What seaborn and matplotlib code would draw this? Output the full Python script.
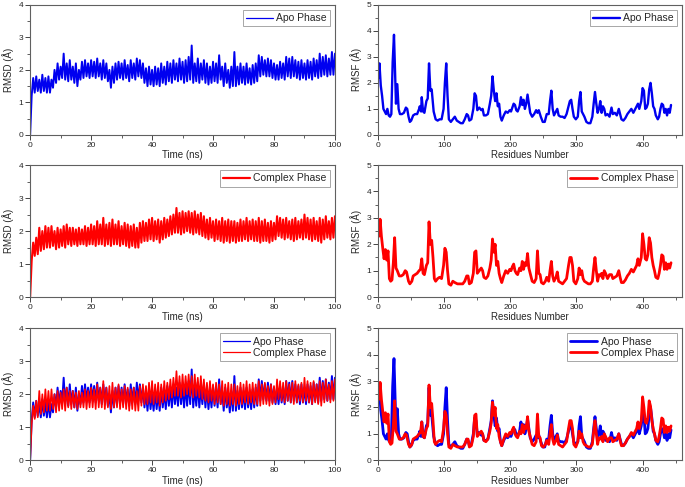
import numpy as np
import matplotlib.pyplot as plt
import seaborn as sns
from matplotlib.ticker import MultipleLocator

# ---------------------------------------------------------
# Data
# ---------------------------------------------------------

# RMSD noise envelopes: upper values at t = 0, 1, ..., 100 ns,
# lower values at t = 0.5, 1.5, ..., 99.5 ns
rmsd_apo_hi = [
    0.0, 1.75, 1.8, 1.7, 1.85, 1.75, 1.8, 1.7, 2.0, 2.2,
    2.1, 2.5, 2.2, 2.3, 2.1, 2.2, 2.0, 2.25, 2.3, 2.2,
    2.3, 2.25, 2.35, 2.2, 2.3, 2.2, 2.0, 2.1, 2.2, 2.25,
    2.2, 2.3, 2.15, 2.3, 2.2, 2.35, 2.3, 2.2, 2.05, 2.1,
    2.0, 2.1, 2.05, 2.2, 2.1, 2.25, 2.2, 2.3, 2.2, 2.35,
    2.25, 2.3, 2.4, 2.75, 2.2, 2.35, 2.2, 2.3, 2.2, 2.1,
    2.25, 2.2, 2.45, 2.1, 2.2, 2.0, 2.1, 2.55, 2.1, 2.2,
    2.1, 2.2, 2.05, 2.15, 2.2, 2.45, 2.4, 2.3, 2.35, 2.3,
    2.2, 2.15, 2.25, 2.2, 2.4, 2.35, 2.4, 2.3, 2.25, 2.3,
    2.2, 2.3, 2.25, 2.35, 2.3, 2.5, 2.4, 2.45, 2.35, 2.55,
    2.5,
]
rmsd_apo_lo = [
    1.2, 1.3, 1.35, 1.3, 1.35, 1.3, 1.3, 1.45, 1.6, 1.7,
    1.75, 1.7, 1.65, 1.7, 1.6, 1.5, 1.7, 1.75, 1.8, 1.75,
    1.8, 1.75, 1.8, 1.7, 1.75, 1.65, 1.45, 1.6, 1.7, 1.75,
    1.7, 1.75, 1.65, 1.75, 1.7, 1.8, 1.75, 1.6, 1.5, 1.55,
    1.5, 1.55, 1.5, 1.6, 1.55, 1.65, 1.6, 1.7, 1.65, 1.7,
    1.6, 1.65, 1.7, 1.6, 1.65, 1.6, 1.7, 1.6, 1.55, 1.6,
    1.65, 1.6, 1.7, 1.5, 1.6, 1.45, 1.5, 1.5, 1.55, 1.6,
    1.55, 1.6, 1.55, 1.6, 1.65, 1.8, 1.85, 1.8, 1.8, 1.75,
    1.7, 1.7, 1.75, 1.7, 1.8, 1.75, 1.8, 1.75, 1.7, 1.75,
    1.7, 1.75, 1.7, 1.8, 1.75, 1.8, 1.85, 1.8, 1.85, 1.85,
]
rmsd_cpx_hi = [
    0.0, 1.65, 1.8, 2.1, 2.0, 2.15, 2.1, 2.15, 2.0, 2.1,
    2.05, 2.15, 2.2, 2.1, 2.1, 2.05, 2.1, 2.05, 2.15, 2.1,
    2.2, 2.15, 2.3, 2.2, 2.4, 2.2, 2.25, 2.35, 2.2, 2.3,
    2.15, 2.25, 2.2, 2.15, 2.2, 2.1, 2.25, 2.3, 2.25, 2.35,
    2.4, 2.3, 2.35, 2.3, 2.4, 2.35, 2.45, 2.5, 2.7, 2.55,
    2.6, 2.55, 2.6, 2.55, 2.6, 2.5, 2.55, 2.45, 2.35, 2.4,
    2.3, 2.35, 2.3, 2.4, 2.3, 2.35, 2.3, 2.3, 2.25, 2.35,
    2.3, 2.4, 2.3, 2.35, 2.3, 2.4, 2.3, 2.35, 2.25, 2.3,
    2.25, 2.45, 2.4, 2.35, 2.4, 2.3, 2.35, 2.4, 2.3, 2.35,
    2.5, 2.4, 2.35, 2.4, 2.3, 2.4, 2.35, 2.45, 2.3, 2.4,
    2.45,
]
rmsd_cpx_lo = [
    1.1, 1.25, 1.3, 1.4, 1.45, 1.5, 1.5, 1.55, 1.45, 1.5,
    1.55, 1.5, 1.6, 1.55, 1.6, 1.55, 1.6, 1.6, 1.55, 1.6,
    1.6, 1.55, 1.6, 1.6, 1.55, 1.6, 1.55, 1.6, 1.6, 1.55,
    1.6, 1.55, 1.5, 1.55, 1.5, 1.5, 1.65, 1.7, 1.7, 1.75,
    1.7, 1.75, 1.65, 1.75, 1.8, 1.85, 1.9, 1.95, 1.95, 1.9,
    1.95, 2.0, 1.95, 1.9, 1.95, 1.9, 1.85, 1.8, 1.75, 1.8,
    1.7, 1.75, 1.7, 1.65, 1.7, 1.65, 1.7, 1.65, 1.7, 1.7,
    1.75, 1.7, 1.75, 1.7, 1.7, 1.65, 1.7, 1.7, 1.65, 1.7,
    1.75, 1.85, 1.8, 1.75, 1.8, 1.75, 1.7, 1.75, 1.8, 1.75,
    1.8, 1.75, 1.7, 1.75, 1.7, 1.65, 1.75, 1.8, 1.75, 1.8,
]

rmsf_apo_res = [
    1, 2, 4, 6, 8, 10, 12, 14, 16, 18, 20, 22, 24, 26, 27, 29, 31, 33,
    36, 39, 42, 44, 46, 48, 50, 53, 56, 59, 62, 63, 65, 66, 68, 70, 73,
    75, 77, 79, 81, 84, 87, 90, 93, 96, 99, 101, 103, 105, 107, 110,
    113, 116, 119, 122, 125, 128, 131, 134, 136, 138, 141, 144, 146,
    148, 150, 153, 156, 158, 160, 163, 166, 169, 171, 173, 175, 177,
    179, 181, 183, 185, 187, 190, 193, 196, 199, 201, 203, 205, 207,
    209, 211, 214, 216, 218, 220, 222, 224, 226, 228, 230, 233, 236,
    239, 241, 243, 246, 249, 252, 255, 258, 260, 262, 264, 266, 269,
    271, 273, 276, 279, 282, 285, 287, 290, 292, 294, 296, 299, 302,
    304, 306, 308, 310, 312, 315, 318, 321, 324, 326, 328, 330, 332,
    334, 336, 338, 340, 342, 344, 347, 350, 353, 355, 358, 361, 364,
    366, 368, 371, 374, 377, 380, 383, 386, 389, 391, 393, 395, 398,
    400, 402, 404, 406, 408, 410, 412, 414, 416, 418, 420, 423, 425,
    427, 429, 431, 433, 435, 437, 439, 441, 443,
]
rmsf_apo = [
    2.2, 2.75, 1.9, 1.5, 1.0, 0.9, 0.8, 1.0, 0.75, 0.7, 0.8, 2.8, 3.85,
    2.0, 1.2, 1.95, 1.0, 0.8, 0.8, 0.85, 1.05, 1.0, 0.7, 0.5, 0.55,
    0.75, 0.8, 0.8, 1.0, 1.1, 0.9, 1.45, 0.9, 0.85, 1.3, 1.4, 2.75,
    1.7, 1.75, 0.9, 0.6, 0.55, 0.6, 0.6, 1.0, 2.0, 2.75, 1.5, 0.6, 0.5,
    0.6, 0.7, 0.55, 0.5, 0.45, 0.45, 0.6, 0.8, 0.75, 0.55, 0.6, 1.0,
    1.6, 1.5, 0.95, 1.05, 0.95, 1.0, 0.75, 0.75, 0.8, 1.2, 1.5, 2.25,
    1.7, 1.3, 1.6, 1.1, 1.2, 0.7, 0.55, 0.75, 0.9, 0.85, 0.95, 0.9,
    1.05, 1.2, 1.15, 0.95, 0.9, 1.1, 1.45, 1.15, 1.35, 1.0, 1.2, 1.55,
    1.2, 0.85, 0.7, 0.8, 0.95, 0.85, 0.95, 0.7, 0.5, 0.5, 0.8, 0.8,
    1.3, 1.7, 1.0, 0.75, 0.9, 1.0, 0.75, 0.7, 0.7, 0.65, 0.8, 1.0,
    1.3, 1.35, 1.0, 0.7, 0.6, 0.7, 1.3, 1.65, 0.9, 0.8, 0.7, 0.5,
    0.45, 0.45, 0.7, 1.2, 1.65, 1.2, 0.85, 1.0, 1.3, 0.85, 1.1, 1.0,
    0.75, 0.8, 0.7, 1.05, 0.8, 0.85, 0.75, 1.0, 0.8, 0.6, 0.55, 0.65,
    0.8, 0.9, 1.0, 0.85, 1.0, 1.1, 1.2, 1.0, 1.3, 1.8, 1.7, 1.0, 1.05,
    1.2, 1.75, 2.0, 1.6, 1.1, 1.0, 0.75, 0.6, 0.7, 1.0, 1.2, 1.15,
    0.85, 1.0, 0.75, 1.0, 0.85, 1.15,
]

rmsf_cpx_res = [
    1, 3, 5, 7, 9, 11, 13, 15, 17, 19, 21, 23, 25, 27, 29, 32, 35, 38,
    41, 43, 46, 48, 51, 53, 56, 59, 62, 64, 66, 68, 70, 73, 75, 77, 79,
    81, 83, 85, 87, 90, 93, 96, 99, 101, 103, 105, 107, 110, 113, 116,
    120, 124, 128, 131, 134, 136, 138, 141, 144, 146, 148, 150, 153,
    156, 158, 160, 163, 166, 169, 171, 173, 175, 177, 179, 181, 183,
    185, 187, 190, 193, 196, 199, 201, 203, 205, 207, 209, 211, 214,
    216, 218, 220, 222, 224, 226, 228, 230, 233, 236, 239, 241, 243,
    245, 247, 250, 253, 255, 258, 260, 262, 264, 266, 269, 271, 273,
    276, 279, 282, 285, 288, 290, 292, 294, 296, 299, 302, 304, 306,
    308, 310, 312, 315, 318, 321, 324, 326, 328, 330, 332, 334, 336,
    338, 340, 342, 344, 347, 350, 353, 355, 358, 361, 364, 366, 368,
    371, 374, 377, 380, 383, 386, 389, 391, 393, 395, 398, 400, 402,
    404, 406, 408, 410, 412, 414, 416, 418, 420, 423, 425, 427, 429,
    431, 433, 435, 437, 439, 441, 443,
]
rmsf_cpx = [
    2.3, 2.95, 2.3, 1.85, 1.45, 1.8, 1.4, 1.75, 0.7, 0.6, 0.65, 1.3,
    2.25, 1.1, 1.0, 0.8, 0.8, 0.85, 1.0, 0.95, 0.6, 0.5, 0.6, 0.8, 0.85,
    0.9, 1.0, 1.05, 1.45, 0.9, 0.85, 1.2, 1.3, 2.85, 2.0, 2.15, 1.5,
    0.7, 0.6, 0.7, 0.75, 0.7, 1.2, 1.85, 1.7, 1.0, 0.5, 0.45, 0.6, 0.55,
    0.5, 0.5, 0.5, 0.6, 0.8, 0.8, 0.5, 0.55, 0.9, 1.7, 1.75, 0.9, 1.0,
    1.1, 1.0, 0.75, 0.7, 0.8, 1.1, 1.4, 2.2, 1.7, 2.0, 1.2, 1.35, 0.9,
    0.7, 0.55, 0.8, 1.0, 0.9, 1.05, 1.0, 1.15, 1.25, 1.0, 0.9, 0.85,
    1.1, 1.0, 1.35, 1.05, 1.3, 1.2, 1.65, 1.1, 0.9, 0.6, 0.55, 0.7,
    1.75, 0.9, 0.85, 0.55, 0.5, 0.6, 0.75, 0.6, 1.0, 1.35, 0.8, 0.6,
    0.75, 0.95, 0.6, 0.55, 0.5, 0.6, 0.7, 1.2, 1.5, 1.5, 1.2, 0.6, 0.5,
    0.7, 1.1, 0.85, 1.0, 0.7, 0.6, 0.55, 0.5, 0.5, 0.6, 1.1, 1.5, 1.0,
    0.6, 0.85, 0.8, 0.9, 0.7, 1.0, 0.9, 0.7, 0.85, 0.85, 0.7, 0.75,
    0.8, 1.0, 0.75, 0.55, 0.55, 0.65, 0.8, 0.9, 1.05, 0.95, 1.1, 1.2,
    1.45, 1.2, 1.5, 2.4, 2.0, 1.45, 1.4, 1.6, 2.25, 2.05, 1.5, 1.2, 1.0,
    0.75, 0.7, 0.9, 1.2, 1.6, 1.55, 1.05, 1.3, 1.05, 1.25, 1.1, 1.3,
]

APO_LABEL = "Apo Phase"
CPX_LABEL = "Complex Phase"
APO_COLOR = "#0000f0"
CPX_COLOR = "#ff0000"


# ---------------------------------------------------------
# Helpers
# ---------------------------------------------------------

def zigzag(hi, lo):
    """Interleave the upper / lower envelope into one noisy trace."""
    hi = np.asarray(hi)
    lo = np.asarray(lo)
    y = np.empty(len(hi) + len(lo))
    y[0::2] = hi
    y[1::2] = lo
    t = np.arange(len(y)) * 0.5
    return t, y


def style_axes(ax, kind):
    if kind == "rmsd":
        ax.set_xlim(0, 100)
        ax.set_ylim(0, 4)
        ax.xaxis.set_major_locator(MultipleLocator(20))
        ax.xaxis.set_minor_locator(MultipleLocator(10))
        ax.set_xlabel("Time (ns)")
        ax.set_ylabel("RMSD (Å)")
    else:
        ax.set_xlim(0, 460)
        ax.set_ylim(0, 5)
        ax.xaxis.set_major_locator(MultipleLocator(100))
        ax.xaxis.set_minor_locator(MultipleLocator(50))
        ax.set_xlabel("Residues Number")
        ax.set_ylabel("RMSF (Å)")

    ax.yaxis.set_major_locator(MultipleLocator(1))
    ax.yaxis.set_minor_locator(MultipleLocator(0.5))
    ax.tick_params(which="major", direction="out", length=3.5, width=0.7,
                   labelsize=6, pad=1.5, color="#444444")
    ax.tick_params(which="minor", direction="out", length=2, width=0.6,
                   color="#444444")
    ax.xaxis.label.set_size(7)
    ax.yaxis.label.set_size(7)
    ax.xaxis.labelpad = 1
    ax.yaxis.labelpad = 3

    for spine in ax.spines.values():
        spine.set_visible(True)
        spine.set_color("#606060")
        spine.set_linewidth(0.8)

    legend = ax.legend(loc="upper right", fontsize=7.5, frameon=True,
                       fancybox=False, handlelength=2.6, handletextpad=0.3,
                       borderpad=0.3, labelspacing=0.15,
                       borderaxespad=0.5)
    legend.get_frame().set_edgecolor("#909090")
    legend.get_frame().set_linewidth(0.7)


# ---------------------------------------------------------
# Plot
# ---------------------------------------------------------

sns.set_style("ticks")
plt.rcParams["font.family"] = ["Liberation Sans", "DejaVu Sans"]

fig = plt.figure(figsize=(6.85, 4.87), dpi=100)

left_x, right_x = 0.044, 0.552
width_l, width_r = 0.445, 0.444
rows = [(0.723, 0.267), (0.390, 0.271), (0.055, 0.271)]

t_apo, y_apo = zigzag(rmsd_apo_hi, rmsd_apo_lo)
t_cpx, y_cpx = zigzag(rmsd_cpx_hi, rmsd_cpx_lo)

# Row 1 - Apo
ax = fig.add_axes([left_x, rows[0][0], width_l, rows[0][1]])
sns.lineplot(x=t_apo, y=y_apo, ax=ax, color=APO_COLOR, linewidth=1.4,
             estimator=None, sort=False, label=APO_LABEL)
style_axes(ax, "rmsd")
ax.get_legend().get_lines()[0].set_linewidth(0.9)

ax = fig.add_axes([right_x, rows[0][0], width_r, rows[0][1]])
sns.lineplot(x=rmsf_apo_res, y=rmsf_apo, ax=ax, color=APO_COLOR,
             linewidth=1.7, estimator=None, sort=False, label=APO_LABEL)
style_axes(ax, "rmsf")

# Row 2 - Complex
ax = fig.add_axes([left_x, rows[1][0], width_l, rows[1][1]])
sns.lineplot(x=t_cpx, y=y_cpx, ax=ax, color=CPX_COLOR, linewidth=1.5,
             estimator=None, sort=False, label=CPX_LABEL)
style_axes(ax, "rmsd")
ax.get_legend().get_lines()[0].set_linewidth(1.6)

ax = fig.add_axes([right_x, rows[1][0], width_r, rows[1][1]])
sns.lineplot(x=rmsf_cpx_res, y=rmsf_cpx, ax=ax, color=CPX_COLOR,
             linewidth=2.0, estimator=None, sort=False, label=CPX_LABEL)
style_axes(ax, "rmsf")

# Row 3 - Overlay
ax = fig.add_axes([left_x, rows[2][0], width_l, rows[2][1]])
sns.lineplot(x=t_apo, y=y_apo, ax=ax, color=APO_COLOR, linewidth=1.4,
             estimator=None, sort=False, label=APO_LABEL)
sns.lineplot(x=t_cpx, y=y_cpx, ax=ax, color=CPX_COLOR, linewidth=1.2,
             estimator=None, sort=False, label=CPX_LABEL)
style_axes(ax, "rmsd")
for line in ax.get_legend().get_lines():
    line.set_linewidth(0.9)

ax = fig.add_axes([right_x, rows[2][0], width_r, rows[2][1]])
sns.lineplot(x=rmsf_apo_res, y=rmsf_apo, ax=ax, color=APO_COLOR,
             linewidth=2.0, estimator=None, sort=False, label=APO_LABEL)
sns.lineplot(x=rmsf_cpx_res, y=rmsf_cpx, ax=ax, color=CPX_COLOR,
             linewidth=2.0, estimator=None, sort=False, label=CPX_LABEL)
style_axes(ax, "rmsf")

fig.savefig("out.png", dpi=100)
plt.close(fig)
